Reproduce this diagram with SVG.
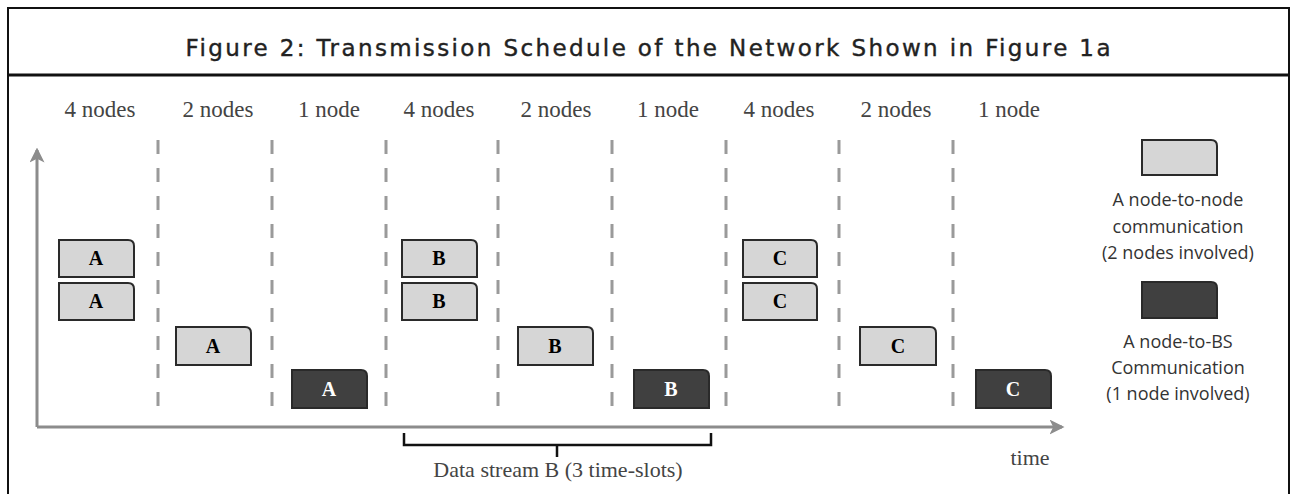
<svg xmlns="http://www.w3.org/2000/svg" width="1295" height="494" viewBox="0 0 1295 494">
<defs>
<marker id="ah" viewBox="0 0 12 12" refX="10" refY="6" markerWidth="5" markerHeight="5" orient="auto" markerUnits="strokeWidth">
<path d="M0,0 L12,6 L0,12 L3,6 z" fill="#8c8c8c"/>
</marker>
<style>
.title{font-family:"DejaVu Sans",Verdana,sans-serif;font-size:23px;fill:#222;stroke:#222;stroke-width:0.4;text-anchor:middle}
.col{font-family:"Liberation Serif","Times New Roman",serif;font-size:23px;fill:#444;text-anchor:middle}
.ser{font-family:"Liberation Serif","Times New Roman",serif;font-size:22px;fill:#444;text-anchor:middle}
.leg{font-family:"Open Sans","DejaVu Sans",sans-serif;font-size:18px;fill:#333;text-anchor:middle}
.lb{font-family:"Liberation Serif","Times New Roman",serif;font-size:20px;font-weight:bold;text-anchor:middle}
.light{fill:#d6d6d6;stroke:#2a2a2a;stroke-width:2}
.dark{fill:#404040;stroke:#2a2a2a;stroke-width:2}
.dash{stroke:#9a9a9a;stroke-width:3;stroke-dasharray:14 14}
.axis{stroke:#8c8c8c;stroke-width:3;fill:none}
</style>
</defs>
<rect width="1295" height="494" fill="#fff"/>
<rect x="8" y="8" width="1281" height="492" fill="none" stroke="#111" stroke-width="2"/>
<line x1="8" y1="75" x2="1289" y2="75" stroke="#111" stroke-width="3"/>
<text class="title" x="648" y="56" textLength="925" lengthAdjust="spacing">Figure 2: Transmission Schedule of the Network Shown in Figure 1a</text>

<g id="labels">
<text class="col" x="100" y="117">4 nodes</text>
<text class="col" x="218" y="117">2 nodes</text>
<text class="col" x="329" y="117">1 node</text>
<text class="col" x="439" y="117">4 nodes</text>
<text class="col" x="556" y="117">2 nodes</text>
<text class="col" x="668" y="117">1 node</text>
<text class="col" x="779" y="117">4 nodes</text>
<text class="col" x="896" y="117">2 nodes</text>
<text class="col" x="1009" y="117">1 node</text>
</g>

<g id="slots">
<line class="dash" x1="158" y1="140" x2="158" y2="412"/>
<line class="dash" x1="272" y1="140" x2="272" y2="412"/>
<line class="dash" x1="386" y1="140" x2="386" y2="412"/>
<line class="dash" x1="498" y1="140" x2="498" y2="412"/>
<line class="dash" x1="612" y1="140" x2="612" y2="412"/>
<line class="dash" x1="726" y1="140" x2="726" y2="412"/>
<line class="dash" x1="839" y1="140" x2="839" y2="412"/>
<line class="dash" x1="953" y1="140" x2="953" y2="412"/>
</g>

<g id="connectors">
<polyline class="axis" points="37,427 37,150" marker-end="url(#ah)"/>
<polyline class="axis" points="37,427 1062,427" marker-end="url(#ah)"/>
<path d="M404,433 V445 H711 V433 M557,445 V457" fill="none" stroke="#111" stroke-width="2.5"/>
</g>

<g id="a1"><path class="light" d="M59,240 H128 Q134,240 134,246 V277 H59 Z"/><text class="lb" x="96" y="265">A</text></g>
<g id="a2"><path class="light" d="M59,283 H128 Q134,283 134,289 V320 H59 Z"/><text class="lb" x="96" y="308">A</text></g>
<g id="a3"><path class="light" d="M176,327 H245 Q251,327 251,333 V365 H176 Z"/><text class="lb" x="213" y="353">A</text></g>
<g id="a4"><path class="dark" d="M292,370 H361 Q367,370 367,376 V408 H292 Z"/><text class="lb" x="329" y="396" fill="#fff">A</text></g>

<g id="b1"><path class="light" d="M402,240 H471 Q477,240 477,246 V277 H402 Z"/><text class="lb" x="439" y="265">B</text></g>
<g id="b2"><path class="light" d="M402,283 H471 Q477,283 477,289 V320 H402 Z"/><text class="lb" x="439" y="308">B</text></g>
<g id="b3"><path class="light" d="M518,327 H587 Q593,327 593,333 V365 H518 Z"/><text class="lb" x="555" y="353">B</text></g>
<g id="b4"><path class="dark" d="M634,370 H703 Q709,370 709,376 V408 H634 Z"/><text class="lb" x="671" y="396" fill="#fff">B</text></g>

<g id="c1"><path class="light" d="M743,240 H811 Q817,240 817,246 V277 H743 Z"/><text class="lb" x="780" y="265">C</text></g>
<g id="c2"><path class="light" d="M743,283 H811 Q817,283 817,289 V320 H743 Z"/><text class="lb" x="780" y="308">C</text></g>
<g id="c3"><path class="light" d="M860,327 H930 Q936,327 936,333 V365 H860 Z"/><text class="lb" x="898" y="353">C</text></g>
<g id="c4"><path class="dark" d="M976,370 H1045 Q1051,370 1051,376 V408 H976 Z"/><text class="lb" x="1013" y="396" fill="#fff">C</text></g>

<g id="legend-n2n">
<path class="light" d="M1142,140 H1211 Q1217,140 1217,146 V175 H1142 Z"/>
<text class="leg" x="1178" y="206">A node-to-node</text>
<text class="leg" x="1178" y="233">communication</text>
<text class="leg" x="1178" y="259">(2 nodes involved)</text>
</g>
<g id="legend-n2bs">
<path class="dark" d="M1142,282 H1211 Q1217,282 1217,288 V318 H1142 Z"/>
<text class="leg" x="1178" y="348">A node-to-BS</text>
<text class="leg" x="1178" y="374">Communication</text>
<text class="leg" x="1178" y="400">(1 node involved)</text>
</g>

<text class="ser" x="558" y="477">Data stream B (3 time-slots)</text>
<text class="ser" x="1030" y="465" font-size="20">time</text>
</svg>
